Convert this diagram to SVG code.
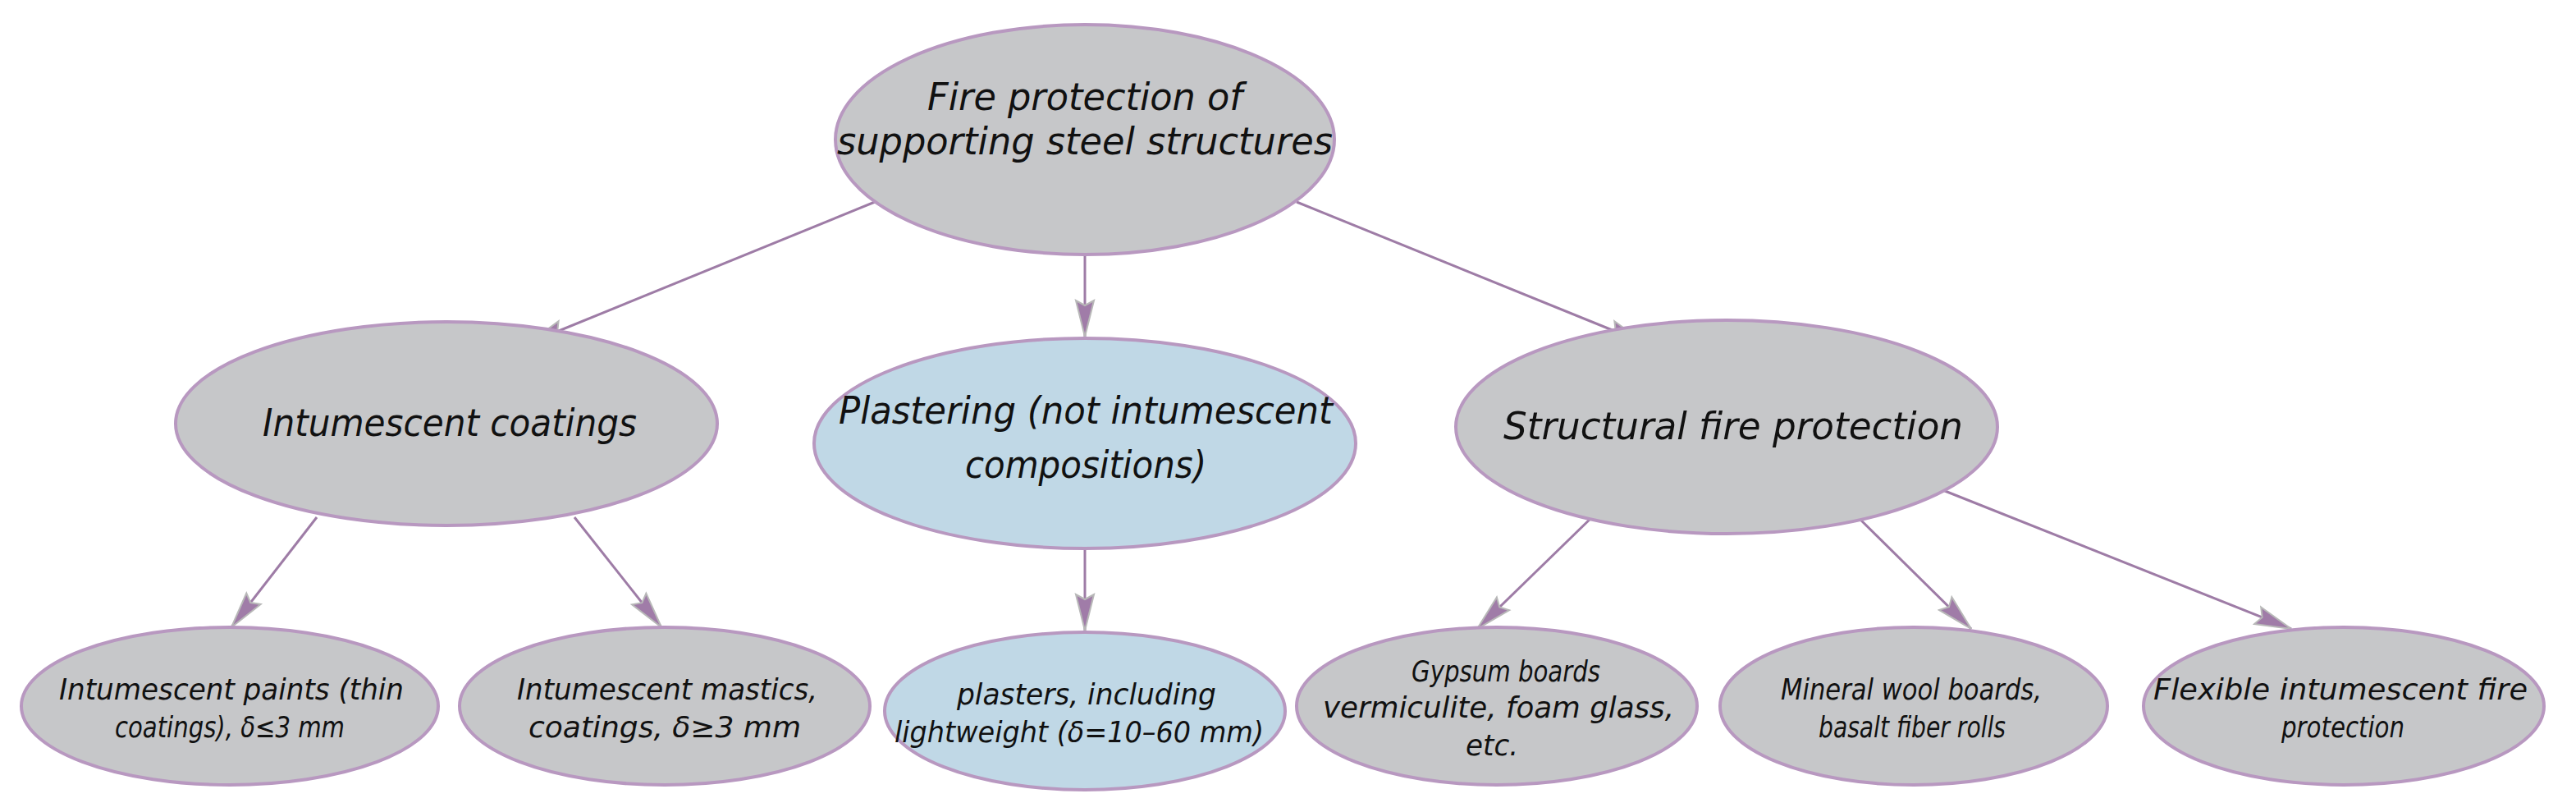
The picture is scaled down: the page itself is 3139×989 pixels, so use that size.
<svg xmlns="http://www.w3.org/2000/svg" width="3139" height="989" viewBox="0 0 3139 989">
<style>
.n{fill:#c6c7c9;stroke:#b898c0;stroke-width:4}
.b{fill:#c0d8e6;stroke:#b898c0;stroke-width:4}
text{font-family:"DejaVu Sans Condensed","DejaVu Sans","Liberation Sans",sans-serif;font-style:italic;fill:#111;text-anchor:middle}
.L{font-size:46px}.S{font-size:35px}
.c line{stroke:#9e7ca6;stroke-width:3;marker-end:url(#a)}
</style>
<defs><marker id="a" markerUnits="userSpaceOnUse" markerWidth="50" markerHeight="30" viewBox="0 0 50 30" refX="46" refY="15" orient="auto"><path d="M2,4 L46,15 L2,26 L8,15 Z" fill="#a07ca8" stroke="#b8b8b8" stroke-width="2"/></marker></defs>
<rect width="3139" height="989" fill="#fff"/>
<g class="c">
<line x1="1066" y1="246" x2="644" y2="418"/>
<line x1="1322" y1="300" x2="1322" y2="410"/>
<line x1="1580" y1="246" x2="2004" y2="418"/>
<line x1="386" y1="630" x2="282" y2="764"/>
<line x1="700" y1="630" x2="806" y2="764"/>
<line x1="1322" y1="668" x2="1322" y2="768"/>
<line x1="1944" y1="626" x2="1800" y2="766"/>
<line x1="2260" y1="626" x2="2402" y2="766"/>
<line x1="2360" y1="594" x2="2792" y2="766"/>
</g>
<g id="root"><ellipse class="n" cx="1322" cy="170" rx="304" ry="140"/><text class="L" x="1322" y="134" textLength="384" lengthAdjust="spacingAndGlyphs">Fire protection of</text><text class="L" x="1322" y="188" textLength="604" lengthAdjust="spacingAndGlyphs">supporting steel structures</text></g>
<g id="intumescent"><ellipse class="n" cx="544" cy="516" rx="330" ry="124"/><text class="L" x="548" y="531" textLength="456" lengthAdjust="spacingAndGlyphs">Intumescent coatings</text></g>
<g id="plastering"><ellipse class="b" cx="1322" cy="540" rx="330" ry="128"/><text class="L" x="1323" y="516" textLength="602" lengthAdjust="spacingAndGlyphs">Plastering (not intumescent</text><text class="L" x="1323" y="582" textLength="294" lengthAdjust="spacingAndGlyphs">compositions)</text></g>
<g id="structural"><ellipse class="n" cx="2104" cy="520" rx="330" ry="130"/><text class="L" x="2112" y="535" textLength="560" lengthAdjust="spacingAndGlyphs">Structural fire protection</text></g>
<g id="paints"><ellipse class="n" cx="280" cy="860" rx="254" ry="96"/><text class="S" x="282" y="852" textLength="420" lengthAdjust="spacingAndGlyphs">Intumescent paints (thin</text><text class="S" x="280" y="898" textLength="280" lengthAdjust="spacingAndGlyphs">coatings), δ≤3 mm</text></g>
<g id="mastics"><ellipse class="n" cx="810" cy="860" rx="250" ry="96"/><text class="S" x="813" y="852" textLength="366" lengthAdjust="spacingAndGlyphs">Intumescent mastics,</text><text class="S" x="810" y="898" textLength="332" lengthAdjust="spacingAndGlyphs">coatings, δ≥3 mm</text></g>
<g id="plasters"><ellipse class="b" cx="1322" cy="866" rx="244" ry="96"/><text class="S" x="1324" y="858" textLength="316" lengthAdjust="spacingAndGlyphs">plasters, including</text><text class="S" x="1315" y="904" textLength="450" lengthAdjust="spacingAndGlyphs">lightweight (δ=10–60 mm)</text></g>
<g id="gypsum"><ellipse class="n" cx="1824" cy="860" rx="244" ry="96"/><text class="S" x="1835" y="830" textLength="230" lengthAdjust="spacingAndGlyphs">Gypsum boards</text><text class="S" x="1826" y="874" textLength="428" lengthAdjust="spacingAndGlyphs">vermiculite, foam glass,</text><text class="S" x="1818" y="920" textLength="64" lengthAdjust="spacingAndGlyphs">etc.</text></g>
<g id="mineral"><ellipse class="n" cx="2332" cy="860" rx="236" ry="96"/><text class="S" x="2329" y="852" textLength="318" lengthAdjust="spacingAndGlyphs">Mineral wool boards,</text><text class="S" x="2330" y="898" textLength="228" lengthAdjust="spacingAndGlyphs">basalt fiber rolls</text></g>
<g id="flexible"><ellipse class="n" cx="2856" cy="860" rx="244" ry="96"/><text class="S" x="2852" y="852" textLength="456" lengthAdjust="spacingAndGlyphs">Flexible intumescent fire</text><text class="S" x="2855" y="898" textLength="150" lengthAdjust="spacingAndGlyphs">protection</text></g>
</svg>
